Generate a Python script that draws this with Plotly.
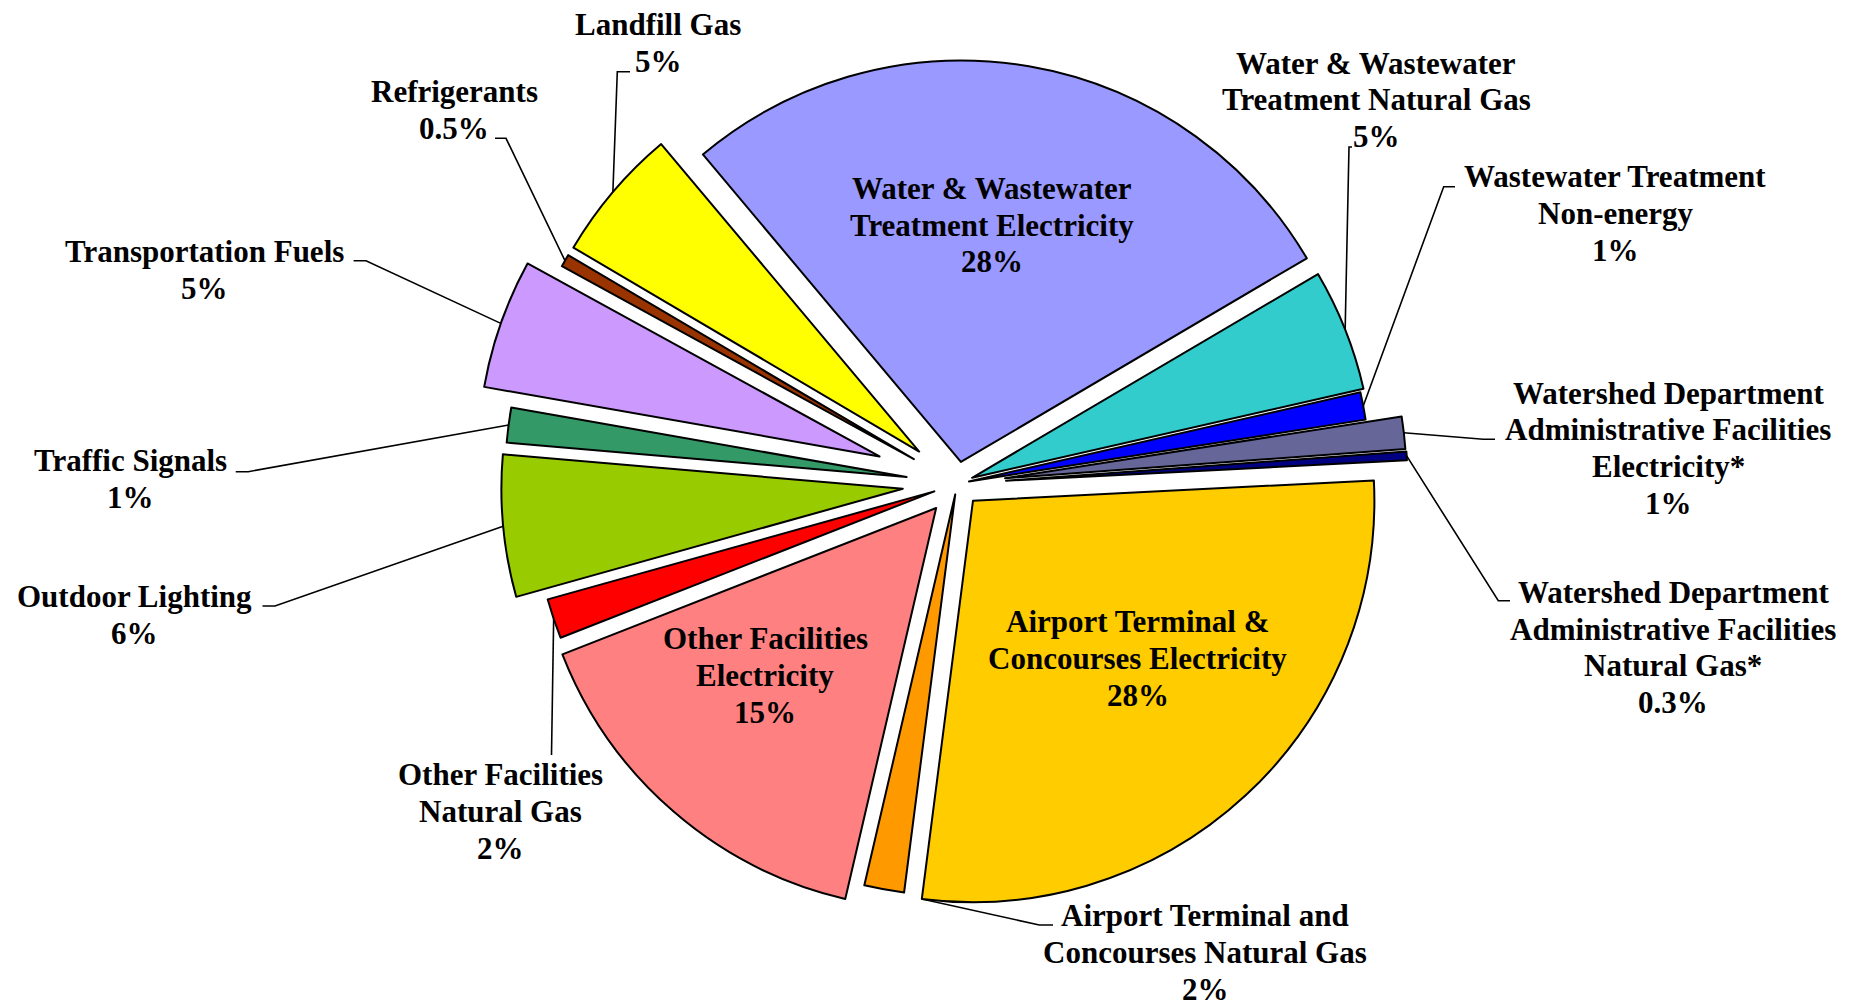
import math
import plotly.graph_objects as go

# ---------------- data ----------------
categories = [
    "Water & Wastewater<br>Treatment Electricity",
    "Water & Wastewater<br>Treatment Natural Gas",
    "Wastewater Treatment<br>Non-energy",
    "Watershed Department<br>Administrative Facilities<br>Electricity*",
    "Watershed Department<br>Administrative Facilities<br>Natural Gas*",
    "Airport Terminal &<br>Concourses Electricity",
    "Airport Terminal and<br>Concourses Natural Gas",
    "Other Facilities<br>Electricity",
    "Other Facilities<br>Natural Gas",
    "Outdoor Lighting",
    "Traffic Signals",
    "Transportation Fuels",
    "Refrigerants",
    "Landfill Gas",
]
values = [27.6, 4.9, 1.1, 1.3, 0.35, 27.8, 1.6, 15.4, 1.6, 5.7, 1.4, 5.2, 0.5, 5.4]
pct_labels = ["28%", "5%", "1%", "1%", "0.3%", "28%", "2%", "15%", "2%",
              "6%", "1%", "5%", "0.5%", "5%"]

# ---------------- style ----------------
colors = ["#9999FF", "#33CCCC", "#0000FF", "#666699", "#000080", "#FFCC00",
          "#FF9900", "#FF8080", "#FF0000", "#99CC00", "#339966", "#CC99FF",
          "#993300", "#FFFF00"]
pulls = [0.055, 0.04, 0.03, 0.12, 0.122, 0.058, 0.027, 0.08, 0.06,
         0.136, 0.127, 0.205, 0.124, 0.124]

W, H = 1860, 1003
ROTATION = -40
DOM_X = [0.2446, 0.7846]
DOM_Y = [0.0355, 1.0]
FONT = dict(family="Liberation Serif", size=31, color="black", weight="bold")
LINE_H = 36.8

# inside labels: slice index -> (radius fraction, angle offset in degrees)
inside_labels = {0: (0.595, -2.2), 5: (0.568, -3.5), 7: (0.596, 4.8)}

# outside labels: slice index -> label block centre, leader elbow, leader end (px),
# and leader attachment (slice index, fraction of the slice angle)
outside_labels = {
    1: dict(center=(1376, 100), elbow=(1349, 147), end=(1352, 147), attach=(1, 0.5)),
    2: dict(center=(1615, 213.3), elbow=(1443.7, 186.7), end=(1455, 186.7), attach=(2, 0.5)),
    3: dict(center=(1668, 448.3), elbow=(1483.3, 439.3), end=(1495, 439.3), attach=(3, 0.5)),
    4: dict(center=(1673.3, 647.5), elbow=(1498.3, 600.7), end=(1510, 600.7), attach=(4, 0.5)),
    6: dict(center=(1205, 952.5), elbow=(1039.3, 925), end=(1053, 925), attach=(5, 1.0)),
    8: dict(center=(500.5, 811.7), elbow=(551.5, 755), end=(551.5, 755), attach=(8, 0.5)),
    9: dict(center=(134.8, 614.7), elbow=(275, 606), end=(262.5, 606), attach=(9, 0.5)),
    10: dict(center=(130.4, 479), elbow=(248.2, 471.7), end=(235.7, 471.7), attach=(10, 0.5)),
    11: dict(center=(204.5, 270), elbow=(366, 260.7), end=(353.6, 260.7), attach=(11, 0.5)),
    12: dict(center=(454.3, 110.3), elbow=(506, 138.3), end=(495, 138.3), attach=(12, 0.5)),
    13: dict(center=(658, 43.3), elbow=(617.3, 71.7), end=(630, 71.7), attach=(13, 0.5)),
}

# ---------------- pie geometry (same rules plotly uses) ----------------
boxW = W * (DOM_X[1] - DOM_X[0])
boxH = H * (DOM_Y[1] - DOM_Y[0])
R = min(boxW, boxH) / (2 + 2 * max(pulls))
CX = W * (DOM_X[0] + DOM_X[1]) / 2
CY = H * (1 - (DOM_Y[0] + DOM_Y[1]) / 2)
total = sum(values)
starts, ends = [], []
acc = 0.0
for v in values:
    starts.append(ROTATION + 360 * acc / total)
    acc += v
    ends.append(ROTATION + 360 * acc / total)


def unit(theta):
    t = math.radians(theta)
    return math.sin(t), -math.cos(t)


def slice_center(i):
    mid = (starts[i] + ends[i]) / 2
    ux, uy = unit(mid)
    return CX + pulls[i] * R * ux, CY + pulls[i] * R * uy


def arc_point(i, frac, rfrac=1.0, dtheta=0.0):
    th = starts[i] + frac * (ends[i] - starts[i]) + dtheta
    px, py = slice_center(i)
    ux, uy = unit(th)
    return px + rfrac * R * ux, py + rfrac * R * uy


def to_paper(x, y):
    return x / W, 1 - y / H


annotations = []


def add_block(lines, cx, cy):
    n = len(lines)
    for k, line in enumerate(lines):
        y = cy + (k - (n - 1) / 2) * LINE_H
        px, py = to_paper(cx, y)
        annotations.append(dict(x=px, y=py, xref="paper", yref="paper", text=line,
                                showarrow=False, xanchor="center", yanchor="middle",
                                font=FONT))


for i, (rf, dth) in inside_labels.items():
    x, y = arc_point(i, 0.5, rf, dth)
    add_block(categories[i].split("<br>") + [pct_labels[i]], x, y)

shapes = []
for i, spec in outside_labels.items():
    add_block(categories[i].split("<br>") + [pct_labels[i]], *spec["center"])
    sidx, frac = spec["attach"]
    a = to_paper(*arc_point(sidx, frac))
    b = to_paper(*spec["elbow"])
    c = to_paper(*spec["end"])
    shapes.append(dict(type="path", xref="paper", yref="paper",
                       path=f"M {a[0]},{a[1]} L {b[0]},{b[1]} L {c[0]},{c[1]}",
                       line=dict(color="black", width=1.6)))

fig = go.Figure(go.Pie(
    labels=categories,
    values=values,
    sort=False,
    direction="clockwise",
    rotation=ROTATION,
    pull=pulls,
    marker=dict(colors=colors, line=dict(color="black", width=2)),
    textinfo="none",
    hoverinfo="none",
    domain=dict(x=DOM_X, y=DOM_Y),
    showlegend=False,
))

fig.update_layout(
    width=W, height=H,
    margin=dict(l=0, r=0, t=0, b=0),
    paper_bgcolor="white",
    plot_bgcolor="white",
    annotations=annotations,
    shapes=shapes,
)

fig.write_html("out.html",
               config={"displayModeBar": False},
               post_script="document.body.style.margin='0';document.body.style.overflow='hidden';")
